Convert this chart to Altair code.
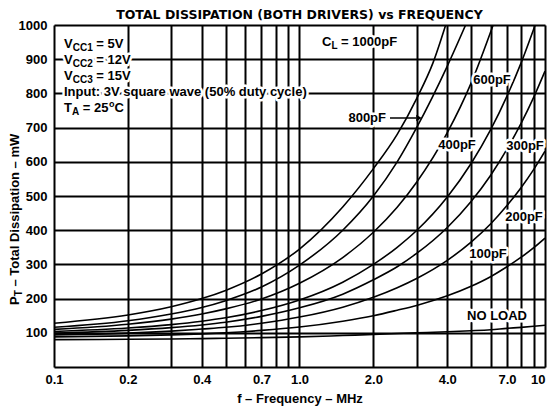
import altair as alt
import pandas as pd

# ---------------- values ----------------
curve_names = ["1000pF", "800pF", "600pF", "400pF", "300pF", "200pF", "100pF", "NO LOAD"]

freq_1000 = [0.1, 0.2, 0.3, 0.4, 0.5, 0.7, 1.0, 1.5, 2.0, 2.5, 3.0, 3.5, 3.94]
p_1000 = [128, 152, 176, 200, 224, 272, 345, 468, 580, 680, 785, 890, 1000]

freq_800 = [0.1, 0.2, 0.3, 0.4, 0.5, 0.7, 1.0, 1.5, 2.0, 2.5, 3.0, 4.0, 4.75]
p_800 = [116, 135, 155, 174, 194, 234, 298, 400, 500, 600, 700, 880, 1000]

freq_600 = [0.1, 0.2, 0.3, 0.4, 0.5, 0.7, 1.0, 1.5, 2.0, 2.5, 3.0, 4.0, 5.0, 6.15]
p_600 = [110, 125, 140, 155, 170, 199, 245, 320, 394, 467, 540, 685, 830, 1000]

freq_400 = [0.1, 0.2, 0.3, 0.4, 0.5, 0.7, 1.0, 1.5, 2.0, 2.5, 3.0, 4.0, 5.0, 6.0, 7.0, 8.0, 9.12]
p_400 = [104, 114, 124, 134, 144, 165, 196, 248, 300, 350, 399, 497, 595, 693, 792, 890, 1000]

freq_full = [0.1, 0.2, 0.3, 0.4, 0.5, 0.7, 1.0, 1.5, 2.0, 2.5, 3.0, 4.0, 5.0, 6.0, 7.0, 8.0, 9.0, 10.0]
p_300 = [99, 107, 115, 123, 131, 148, 173, 213, 255, 293, 332, 408, 484, 560, 637, 713, 789, 865]
p_200 = [94, 99, 105, 111, 116, 128, 146, 175, 204, 232, 259, 312, 365, 418, 472, 525, 578, 631]
p_100 = [88, 91, 94, 97, 100, 107, 117, 134, 150, 166, 180, 208, 236, 264, 293, 321, 349, 377]
p_noload = [80, 81, 82, 83, 84, 86, 88, 92, 95, 98, 100, 103, 106, 109, 113, 116, 119, 122]

x_grid = [0.1, 0.2, 0.3, 0.4, 0.5, 0.6, 0.7, 0.8, 0.9, 1, 2, 3, 4, 5, 6, 7, 8, 9, 10]
x_label_values = [0.1, 0.2, 0.4, 0.7, 1, 2, 4, 7, 10]
x_label_texts = ["0.1", "0.2", "0.4", "0.7", "1.0", "2.0", "4.0", "7.0", "10"]
y_grid = [0, 100, 200, 300, 400, 500, 600, 700, 800, 900, 1000]

# ---------------- layout ----------------
LEFT, TOP = 54, 25          # page position of the plot area
PLOT_W, PLOT_H = 491, 342
FONT = "Liberation Sans"


def page_f(x):
    return 0.1 * 10 ** (2 * (x - LEFT) / PLOT_W)


def page_p(y):
    return 1000 * (1 - (y - TOP) / PLOT_H)


series = [
    ("1000pF", freq_1000, p_1000), ("800pF", freq_800, p_800),
    ("600pF", freq_600, p_600), ("400pF", freq_400, p_400),
    ("300pF", freq_full, p_300), ("200pF", freq_full, p_200),
    ("100pF", freq_full, p_100), ("NO LOAD", freq_full, p_noload),
]
rows = []
for name, fs, ps in series:
    for f, p in zip(fs, ps):
        rows.append({"curve": name, "f": f, "P": p})
curves = pd.DataFrame(rows)

label_expr = "".join(
    f"datum.value == {v} ? '{t}' : " for v, t in zip(x_label_values, x_label_texts)
) + "''"

X = alt.X("f:Q", scale=alt.Scale(type="log", domain=[0.1, 10], nice=False),
          axis=alt.Axis(values=x_grid, labelExpr=label_expr, title="f – Frequency – MHz",
                        grid=True, gridColor="black", gridWidth=2, gridOpacity=1,
                        domain=False, ticks=False, labelFont=FONT, labelFontSize=13,
                        labelFontWeight="bold", labelColor="black", labelPadding=6,
                        labelAlign=alt.ExprRef("datum.value == 10 ? 'right' : 'center'"),
                        labelFlush=False, labelOverlap=False, labelBound=False,
                        titleFont=FONT, titleFontSize=13, titleFontWeight="bold",
                        titleColor="black", titlePadding=6))
Y = alt.Y("P:Q", scale=alt.Scale(domain=[0, 1000], nice=False),
          axis=alt.Axis(values=y_grid,
                        labelExpr="datum.value == 0 ? '' : format(datum.value, 'd')",
                        grid=True, gridColor="black", gridWidth=2, gridOpacity=1,
                        domain=False, ticks=False, labelFont=FONT, labelFontSize=13,
                        labelFontWeight="bold", labelColor="black", labelPadding=7,
                        labelOverlap=False, title=None))

lines = alt.Chart(curves).mark_line(color="black", strokeWidth=1.6, interpolate="monotone",
                                    clip=True).encode(
    x=X, y=Y, detail="curve:N", order="f:Q")


def text_rows(items):
    return pd.DataFrame([{"text": t, "f": page_f(x), "P": page_p(y), "size": s}
                         for t, x, y, s in items])


def text_layers(df, align):
    base = alt.Chart(df).encode(x=X, y=Y, text="text:N", size=alt.Size("size:Q", scale=None))
    halo = base.mark_text(align=align, baseline="middle", font=FONT, fontWeight="bold",
                          stroke="white", strokeWidth=5, fill="white", strokeJoin="round")
    ink = base.mark_text(align=align, baseline="middle", font=FONT, fontWeight="bold",
                         color="black")
    return [halo, ink]


left_items = [
    ("V", 64, 44, 13), ("CC1", 72.7, 48, 10), ("= 5V", 96.3, 44, 13),
    ("V", 64, 60, 13), ("CC2", 72.7, 64, 10), ("= 12V", 96.3, 60, 13),
    ("V", 64, 75.5, 13), ("CC3", 72.7, 79.5, 10), ("= 15V", 96.3, 75.5, 13),
    ("Input: 3V square wave (50% duty cycle)", 64, 91.5, 13),
    ("T", 64, 108, 13), ("A", 71.9, 112, 10), ("= 25", 82.7, 108, 13),
    ("o", 109, 103.5, 9), ("C", 114.5, 108, 13),
    ("C", 322, 42, 13), ("L", 331.4, 46, 10), ("= 1000pF", 341.1, 42, 13),
]
center_items = [
    ("600pF", 492, 80, 13), ("400pF", 457, 145, 13), ("300pF", 525, 146, 13),
    ("200pF", 524, 217, 13), ("100pF", 488, 254, 13), ("NO LOAD", 497, 316, 13),
]
right_items = [("800pF", 386, 118, 13)]

layers = [lines]
layers += text_layers(text_rows(left_items), "left")
layers += text_layers(text_rows(center_items), "center")
layers += text_layers(text_rows(right_items), "right")

arrow = pd.DataFrame({"f": [page_f(390)], "f2": [page_f(416)], "P": [page_p(118)]})
layers.append(alt.Chart(arrow).mark_rule(color="black", strokeWidth=1.5).encode(
    x=X, x2="f2:Q", y=Y))
head = pd.DataFrame({"f": [page_f(419)], "P": [page_p(118)]})
layers.append(alt.Chart(head).mark_point(shape="triangle-right", filled=True, color="black",
                                         size=40, opacity=1).encode(x=X, y=Y))

# chart title as text (kept inside the drawing area)
title_df = pd.DataFrame({"t": ["TOTAL DISSIPATION (BOTH DRIVERS) vs FREQUENCY"]})
layers.append(alt.Chart(title_df).mark_text(
    align="center", baseline="middle", font="DejaVu Sans", fontSize=12.5, fontWeight="bold",
    color="black").encode(x=alt.value(PLOT_W / 2), y=alt.value(15 - TOP), text="t:N"))

# rotated y-axis title with subscript
ytitle = pd.DataFrame({"t": ["P", "T", "– Total Dissipation – mW"],
                       "x": [15 - LEFT, 18.5 - LEFT, 15 - LEFT],
                       "y": [305 - TOP, 296.3 - TOP, 286.6 - TOP],
                       "s": [13, 10, 13]})
for i in range(3):
    layers.append(alt.Chart(ytitle.iloc[[i]]).mark_text(
        angle=270, align="left", baseline="middle", font=FONT, fontWeight="bold",
        color="black", fontSize=int(ytitle.s[i])).encode(
        x=alt.value(float(ytitle.x[i])), y=alt.value(float(ytitle.y[i])), text="t:N"))

chart = alt.layer(*layers).properties(
    width=PLOT_W, height=PLOT_H,
    autosize=alt.AutoSizeParams(type="none"),
    padding={"left": LEFT - 8, "top": TOP - 8, "right": 2, "bottom": 42},
).configure_view(stroke="black", strokeWidth=2.5).configure(background="white")

chart.save("out.html", embed_options={"renderer": "svg", "actions": False})
